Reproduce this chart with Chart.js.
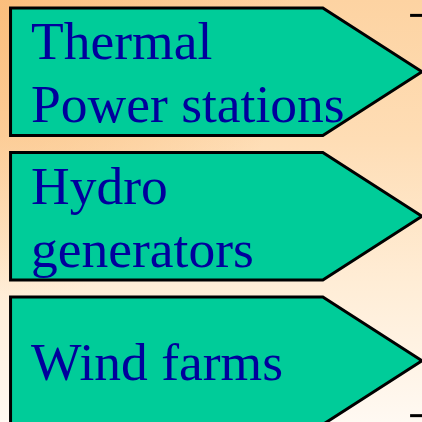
<!DOCTYPE html>
<html>
<head>
<meta charset="utf-8">
<script src="https://cdn.jsdelivr.net/npm/chart.js@4/dist/chart.umd.min.js"></script>
<style>
  html, body { margin: 0; padding: 0; overflow: hidden; }
  body {
    width: 422px; height: 422px;
    background:
      radial-gradient(circle at 0 0, rgba(250,185,115,0.8) 0, rgba(250,185,115,0) 300px),
      linear-gradient(to bottom, #fdd3a2 0%, #feddb5 33%, #ffedd6 67%, #fff9f2 100%);
  }
  #wrap { position: relative; width: 422px; height: 422px; }
  canvas { display: block; }
</style>
</head>
<body>
<div id="wrap"><canvas id="chart" width="422" height="422"></canvas></div>
<script>
// sources feeding the network
const categories = ['Thermal Power stations', 'Hydro generators', 'Wind farms'];
const labelLines = [['Thermal', 'Power stations'], ['Hydro', 'generators'], ['Wind farms']];
const bodyStart = [2.5, 2.5, 2.5];
const bodyEnd = [76.5, 76.5, 76.5];
const tipEnd = [100, 100, 100];
const positions = [0, 1, 2];

// little bracket ends on the right edge
const bracketX = [98.6, 98.6];
const bracketY = [-0.39, 2.38];

const { BarController, BarElement } = Chart;

class ArrowBar extends BarElement {
  static id = 'arrowBar';
  static defaults = { ...BarElement.defaults };
  static defaultRoutes = { ...BarElement.defaultRoutes };

  draw(ctx) {
    const { x, y, base, height, tipX } = this;
    const o = this.options;
    const top = y - height / 2, bot = y + height / 2;
    const left = Math.min(x, base), right = Math.max(x, base);
    ctx.save();
    ctx.beginPath();
    ctx.moveTo(left, top);
    ctx.lineTo(right, top);
    ctx.lineTo(tipX, y);
    ctx.lineTo(right, bot);
    ctx.lineTo(left, bot);
    ctx.closePath();
    ctx.fillStyle = o.backgroundColor;
    ctx.fill();
    ctx.lineWidth = o.borderWidth;
    ctx.strokeStyle = o.borderColor;
    ctx.lineJoin = 'miter';
    ctx.stroke();
    ctx.restore();
  }
}

class ArrowController extends BarController {
  static id = 'arrow';
  static defaults = { ...BarController.defaults, dataElementType: 'arrowBar' };
  static overrides = BarController.overrides;

  updateElements(bars, start, count, mode) {
    super.updateElements(bars, start, count, mode);
    const xs = this._cachedMeta.xScale;
    const tips = this.getDataset().tips;
    for (let i = start; i < start + count; i++) {
      bars[i].tipX = xs.getPixelForValue(tips[i]);
    }
  }
}

Chart.register(ArrowBar, ArrowController);

const arrowLabels = {
  id: 'arrowLabels',
  afterDatasetsDraw(chart) {
    const meta = chart.getDatasetMeta(0);
    const ctx = chart.ctx;
    ctx.save();
    ctx.font = '53.5px "Liberation Serif", "Times New Roman", serif';
    ctx.fillStyle = '#00009c';
    ctx.textAlign = 'left';
    ctx.textBaseline = 'alphabetic';
    meta.data.forEach((bar, i) => {
      const lines = labelLines[i];
      const left = Math.min(bar.x, bar.base);
      lines.forEach((t, j) => {
        const yy = bar.y + (j - (lines.length - 1) / 2) * 63 + 19;
        ctx.fillText(t, left + 20.5, yy);
      });
    });
    ctx.restore();
  }
};

const hiddenAxis = { type: 'linear', display: false, offset: false, grace: 0, ticks: { display: false }, grid: { display: false, offset: false } };

new Chart(document.getElementById('chart'), {
  type: 'arrow',
  data: {
    datasets: [{
      type: 'arrow',
      indexAxis: 'y',
      label: 'Sources',
      data: positions.map((p, i) => ({ y: p, x: [bodyStart[i], bodyEnd[i]] })),
      tips: tipEnd,
      backgroundColor: '#00cc99',
      borderColor: '#000000',
      borderWidth: 3,
      barThickness: 127.5,
      clip: false
    }, {
      type: 'scatter',
      label: 'bracket',
      data: bracketX.map((x, i) => ({ x: x, y: bracketY[i] })),
      pointStyle: 'line',
      pointRadius: 6,
      borderWidth: 3,
      borderColor: '#000000',
      showLine: false,
      clip: false
    }]
  },
  options: {
    responsive: false,
    animation: false,
    maintainAspectRatio: false,
    layout: { padding: { left: 0, right: 0, top: 0, bottom: 0 }, autoPadding: false },
    plugins: { legend: { display: false }, title: { display: false }, tooltip: { enabled: false } },
    scales: {
      x: { ...hiddenAxis, min: 0, max: 100 },
      y: { ...hiddenAxis, min: -0.4965, max: 2.4239, reverse: true }
    }
  },
  plugins: [arrowLabels]
});
</script>
</body>
</html>
